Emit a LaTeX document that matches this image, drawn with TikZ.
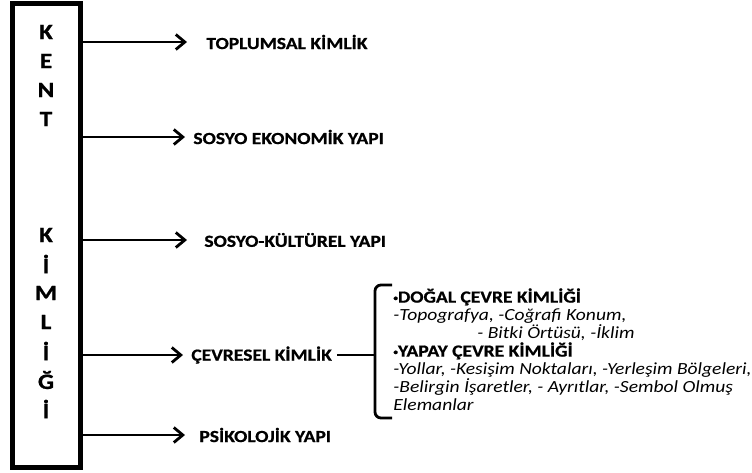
\documentclass[tikz,border=0pt]{standalone}
\usepackage{fontspec}
\setmainfont[FakeStretch=1.15,BoldFeatures={FakeBold=0.8}]{Carlito}
\usetikzlibrary{arrows.meta}

\begin{document}
\begin{tikzpicture}[x=1pt,y=-1pt,>={Straight Barb[length=9pt,width=15pt]},line width=2.8pt]
\tikzset{lbl/.style={anchor=west,inner sep=0pt,font=\bfseries\fontsize{17}{18}\selectfont}}
\useasboundingbox (0,0) rectangle (752,472);
\node[draw,line width=5pt,minimum width=68pt,minimum height=464pt,inner sep=0pt] (kent) at (46,235) {};
\foreach \c [count=\i from 0] in {K,E,N,T,,,,K,İ,M,L,İ,Ğ,İ}
  \node[font=\bfseries\fontsize{22}{22}\selectfont] (l\i) at (46,32+29*\i) {\c};
\node[lbl] (toplum) at (205,42) {TOPLUMSAL KİMLİK};
\node[lbl] (ekonomi) at (192,137) {SOSYO EKONOMİK YAPI};
\node[lbl] (kultur) at (203,240) {SOSYO-KÜLTÜREL YAPI};
\node[lbl] (cevre) at (190,355) {ÇEVRESEL KİMLİK};
\node[lbl] (psiko) at (198,435) {PSİKOLOJİK YAPI};
\draw[->] (kent.east |- toplum.west) -- ([xshift=-18pt]toplum.west);
\draw[->] (kent.east |- ekonomi.west) -- ([xshift=-7pt]ekonomi.west);
\draw[->] (kent.east |- kultur.west) -- ([xshift=-16pt]kultur.west);
\draw[->] (kent.east |- cevre.west) -- ([xshift=-7pt]cevre.west);
\draw[->] (kent.east |- psiko.west) -- ([xshift=-13pt]psiko.west);
% parantez
\coordinate (brace) at (375,352);
\coordinate (btop) at (392,285);
\coordinate (bbot) at (392,418);
\draw ([xshift=4pt]cevre.east) -- (cevre.east -| brace);
\draw[rounded corners=6pt] (btop) -- (btop -| brace) -- (bbot -| brace) -- (bbot);
\node[anchor=north west,align=left,inner sep=0pt,font=\fontsize{17}{18}\selectfont] (dogal) at (392,287)
  {\textbf{{\footnotesize\raisebox{2pt}{•}}DOĞAL ÇEVRE KİMLİĞİ}\\
   \textit{-Topografya, -Coğrafi Konum,}\\
   \hspace{84pt}\textit{- Bitki Örtüsü, -İklim}\\
   \textbf{{\footnotesize\raisebox{2pt}{•}}YAPAY ÇEVRE KİMLİĞİ}\\
   \textit{-Yollar, -Kesişim Noktaları, -Yerleşim Bölgeleri,}\\
   \textit{-Belirgin İşaretler, - Ayrıtlar, -Sembol Olmuş}\\
   \textit{Elemanlar}};
\end{tikzpicture}
\end{document}
